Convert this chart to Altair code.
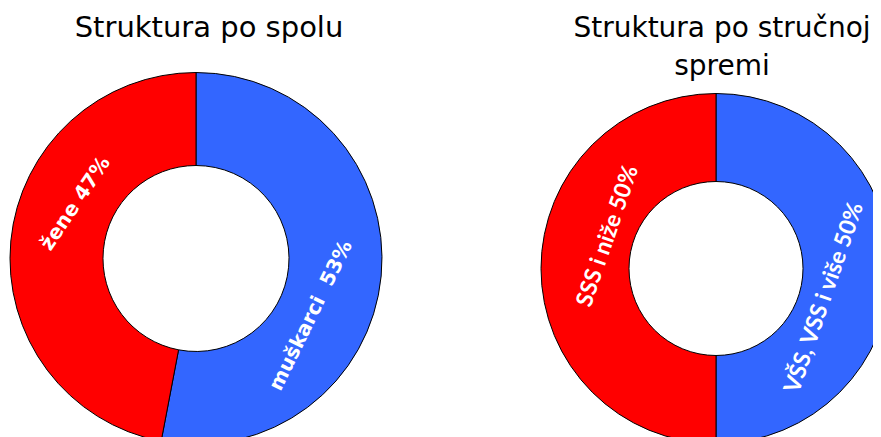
import altair as alt
import pandas as pd

# ---- data ----
spol_cats = ["muškarci", "žene"]
spol_vals = [53, 47]
spol_labels = ["muškarci \u00a053%", "žene 47%"]

sprema_cats = ["VŠS, VSS i više", "SSS i niže"]
sprema_vals = [50, 50]
sprema_labels = ["VŠS, VSS i više 50%", "SSS i niže 50%"]

slot = [0, 1]
colors = ["#3366FF", "#FF0000"]


def donut(cats, vals, labels, title, inner, outer, w, h, txt_specs, title_font, title_offset, title_dx, label_font):
    df = pd.DataFrame({"cat": cats, "value": vals, "label": labels, "slot": slot})
    total = float(sum(vals))
    tscale = alt.Scale(domain=[0, total], range=[0, 6.283185307179586], zero=True, nice=False)
    base = alt.Chart(df).transform_stack(
        stack="value", groupby=[], as_=["t0", "t1"],
        sort=[alt.SortField("slot", order="ascending")]
    ).transform_calculate(mid="(datum.t0 + datum.t1) / 2")

    arc = base.mark_arc(innerRadius=inner, outerRadius=outer, stroke="black", strokeWidth=1).encode(
        theta=alt.Theta("t0:Q", stack=None, scale=tscale),
        theta2="t1:Q",
        color=alt.Color("slot:N", scale=alt.Scale(domain=slot, range=colors), legend=None),
    )
    layers = [arc]
    rad = (inner + outer) / 2
    for s, ang, dx, dy in txt_specs:
        t = base.transform_filter(alt.datum.slot == s).mark_text(
            radius=rad, angle=ang, dx=dx, dy=dy, color="white",
            font=label_font[0], fontSize=label_font[1], fontWeight=label_font[2],
            align="center", baseline="middle",
        ).encode(
            theta=alt.Theta("mid:Q", stack=None, scale=tscale),
            text="label:N",
        )
        layers.append(t)
    return alt.layer(*layers).properties(
        width=w, height=h,
        title=alt.TitleParams(title, font="DejaVu Sans", fontSize=title_font, offset=title_offset,
                              fontWeight="normal", color="black", dx=title_dx, lineHeight=38),
    )


left = donut(spol_cats, spol_vals, spol_labels, "Struktura po spolu", 93, 186, 376, 265,
             [(0, 296, -50, -2), (1, 304, 45, -8)], 29, 28, 13, ("DejaVu Sans", 20, "bold"))
right = donut(sprema_cats, sprema_vals, sprema_labels, ["Struktura po stručnoj", "spremi"], 87, 175, 314, 285,
              [(0, 289, -35, -12), (1, 289, 38, 11)], 28, 11, 6, ("Lato", 23, "bold"))

chart = alt.hconcat(left, right, spacing=175, bounds="flush").resolve_scale(
    theta="independent"
).configure_view(stroke=None).properties(
    padding={"left": 0, "top": 5, "right": -20, "bottom": 0}
)

chart.save("out.html", embed_options={"renderer": "svg", "actions": False})
